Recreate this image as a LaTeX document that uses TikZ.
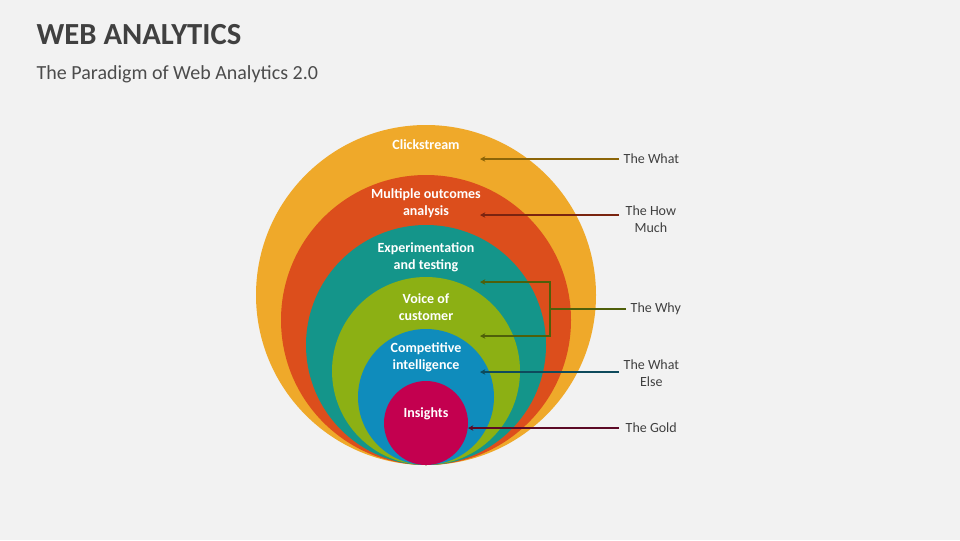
\documentclass[tikz,border=0pt]{standalone}
\usepackage{fontspec}
\setmainfont{Carlito}
\usetikzlibrary{arrows.meta}
\definecolor{bgray}{HTML}{F2F2F2}
\definecolor{ringA}{HTML}{EFA92A}
\definecolor{ringB}{HTML}{DC4E1C}
\definecolor{ringC}{HTML}{14958A}
\definecolor{ringD}{HTML}{8CB014}
\definecolor{ringE}{HTML}{0F8CBC}
\definecolor{ringF}{HTML}{C3004F}
\definecolor{lineA}{HTML}{8C6508}
\definecolor{lineB}{HTML}{7A2410}
\definecolor{lineC}{HTML}{4F5F0A}
\definecolor{lineD}{HTML}{0E4A5C}
\definecolor{lineE}{HTML}{5C0A26}
\tikzset{
  ring/.style={circle, inner sep=0pt},
  inlabel/.style={text=white, font=\bfseries\fontsize{10.5}{12.5}\selectfont, align=center},
  outlabel/.style={text=black!75, font=\fontsize{10.5}{13}\selectfont, align=center},
  arrow/.style={line width=1pt, -{Stealth[length=4pt,width=4pt]}}
}
\begin{document}
\begin{tikzpicture}[x=0.75pt,y=-0.75pt]
  \fill[bgray] (0,0) rectangle (960,540);
  \useasboundingbox (0,0) rectangle (960,540);
  \node[anchor=west, font=\bfseries\fontsize{23}{26}\selectfont, text=black!75] (title) at (32,35) {WEB ANALYTICS};
  \node[anchor=west, font=\fontsize{15}{18}\selectfont, text=black!70] (sub) at (32,74) {The Paradigm of Web Analytics 2.0};

  % nested circles, all touching at the bottom
  \fill[ringA] (426,295) circle (170);
  \fill[ringB] (426,320) circle (145);
  \fill[ringC] (426,345) circle (120);
  \fill[ringD] (426,371) circle (94);
  \fill[ringE] (426,397) circle (68);
  \fill[ringF] (426,423) circle (42);

  \node[inlabel] (click) at (426,145) {Clickstream};
  \node[inlabel] (multi) at (426,203) {Multiple outcomes\\analysis};
  \node[inlabel] (exper) at (426,257) {Experimentation\\and testing};
  \node[inlabel] (voice) at (426,307) {Voice of\\customer};
  \node[inlabel] (comp) at (426,357) {Competitive\\intelligence};
  \node[inlabel] (ins) at (426,414) {Insights};

  \node[outlabel, anchor=west] (what) at (619,159) {The What};
  \node[outlabel, anchor=west] (how) at (621,219) {The How\\Much};
  \node[outlabel, anchor=west] (why) at (626,309) {The Why};
  \node[outlabel, anchor=west] (else) at (619,373) {The What\\Else};
  \node[outlabel, anchor=west] (gold) at (621,428) {The Gold};

  \coordinate (tA) at (480,159);
  \coordinate (tB) at (480,215);
  \coordinate (tC) at (480,282);
  \coordinate (tD) at (480,336);
  \coordinate (tE) at (480,372);
  \coordinate (tF) at (468,428);
  \coordinate (bk) at (550,309);

  \draw[arrow, lineA] (619,159) -- (tA);
  \draw[arrow, lineB] (619,215) -- (tB);
  \draw[line width=1pt, lineC] (why.west) -- (bk);
  \draw[arrow, lineC] (bk) |- (tC);
  \draw[arrow, lineC] (bk) |- (tD);
  \draw[arrow, lineD] (619,372) -- (tE);
  \draw[arrow, lineE] (619,428) -- (tF);
\end{tikzpicture}
\end{document}
